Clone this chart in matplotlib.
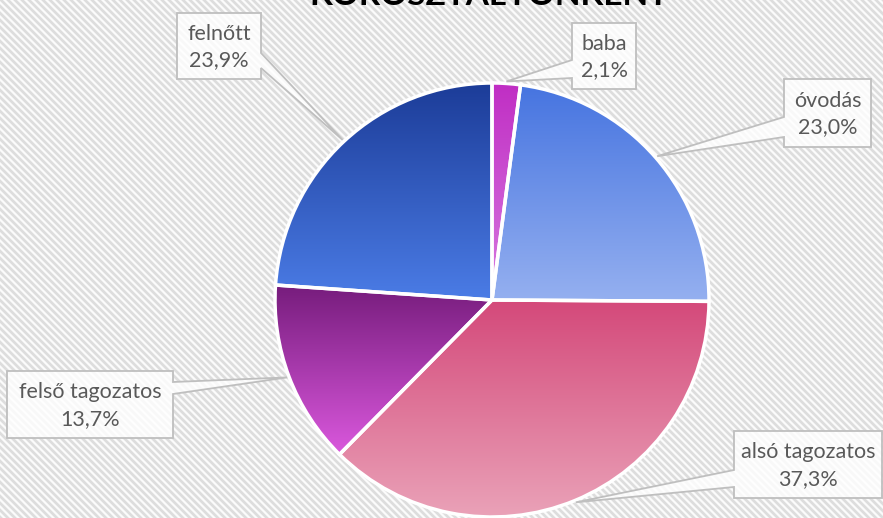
import numpy as np
import matplotlib.pyplot as plt
from matplotlib.patches import Polygon
from matplotlib.colors import to_rgb

W, H = 883, 518

# data
categories = ['baba', 'óvodás', 'alsó tagozatos', 'felső tagozatos', 'felnőtt']
shares = [2.1, 23.0, 37.3, 13.7, 23.9]
title = 'KOROSZTÁLYONKÉNT'

# gradient colours per slice (top, bottom)
grad_top = ['#c02ec4', '#4674e0', '#d4497a', '#761c7c', '#1c3c98']
grad_bottom = ['#d77ae0', '#95b0f0', '#eaa2b8', '#da58dd', '#4b7ce6']

# label box layout in pixels: (left, top, right, bottom), leader side, leader base y range
boxes = [
    ((572, 23, 636, 89), 'left', (60, 78)),
    ((784, 79, 871, 147), 'left', (117, 137)),
    ((734, 431, 882, 498), 'left', (470, 487)),
    ((7, 371, 173, 438), 'right', (382, 394)),
    ((177, 13, 261, 79), 'right', (53, 68)),
]

cx, cy, rad = 492, 300, 217

fig = plt.figure(figsize=(W / 100, H / 100), dpi=100)
ax = fig.add_axes([0, 0, 1, 1])


def fy(y):
    return H - y


# striped background
yy, xx = np.mgrid[0:H, 0:W]
phase = (xx - yy) % 7
stripe = np.where(phase < 3, 0.87, 0.985)
stripe[(phase == 3) | (phase == 6)] = 0.935
ax.imshow(np.dstack([stripe] * 3), extent=(0, W, 0, H), origin='upper',
          interpolation='nearest', zorder=0)

wedges, _ = ax.pie(shares, startangle=90, counterclock=False,
                   center=(cx, fy(cy)), radius=rad, frame=True,
                   wedgeprops=dict(edgecolor='white', linewidth=2.5))
ax.set_xlim(0, W)
ax.set_ylim(0, H)
ax.set_aspect('equal')
ax.axis('off')

t = np.linspace(0, 1, 256)[:, None]
for w, c0, c1 in zip(wedges, grad_top, grad_bottom):
    c0, c1 = np.array(to_rgb(c0)), np.array(to_rgb(c1))
    img = (1 - t)[:, :, None] * c0 + t[:, :, None] * c1
    ext = w.get_path().get_extents()
    im = ax.imshow(img, extent=(ext.x0, ext.x1, ext.y0, ext.y1), origin='upper',
                   aspect='auto', zorder=1, interpolation='bilinear')
    im.set_clip_path(w)
    w.set_facecolor('none')
    w.set_zorder(2)

ax.set_xlim(0, W)
ax.set_ylim(0, H)

# callout labels
for w, name, val, (rect, side, (b0, b1)) in zip(wedges, categories, shares, boxes):
    mid = np.deg2rad((w.theta1 + w.theta2) / 2)
    tip = (cx + (rad + 2) * np.cos(mid), fy(cy) + (rad + 2) * np.sin(mid))
    l, tp, r, bt = rect
    if side == 'left':
        pts = [(l, fy(tp)), (r, fy(tp)), (r, fy(bt)), (l, fy(bt)), (l, fy(b1)), tip, (l, fy(b0))]
    else:
        pts = [(l, fy(tp)), (r, fy(tp)), (r, fy(b0)), tip, (r, fy(b1)), (r, fy(bt)), (l, fy(bt))]
    ax.add_patch(Polygon(pts, closed=True, facecolor=(1, 1, 1, 0.82),
                         edgecolor='#bfbfbf', linewidth=1.3, zorder=3))
    txt = f'{name}\n{val:.1f}%'.replace('.', ',')
    ax.text((l + r) / 2, fy((tp + bt) / 2) - 1, txt, ha='center', va='center',
            fontsize=15.5, color='#595959', family='Lato', linespacing=1.42,
            zorder=4)

ax.text(489, fy(5), title, ha='center', va='baseline', fontsize=24,
        fontweight='bold', family='Lato', color='black', zorder=4)

fig.savefig('out.png', dpi=100)
